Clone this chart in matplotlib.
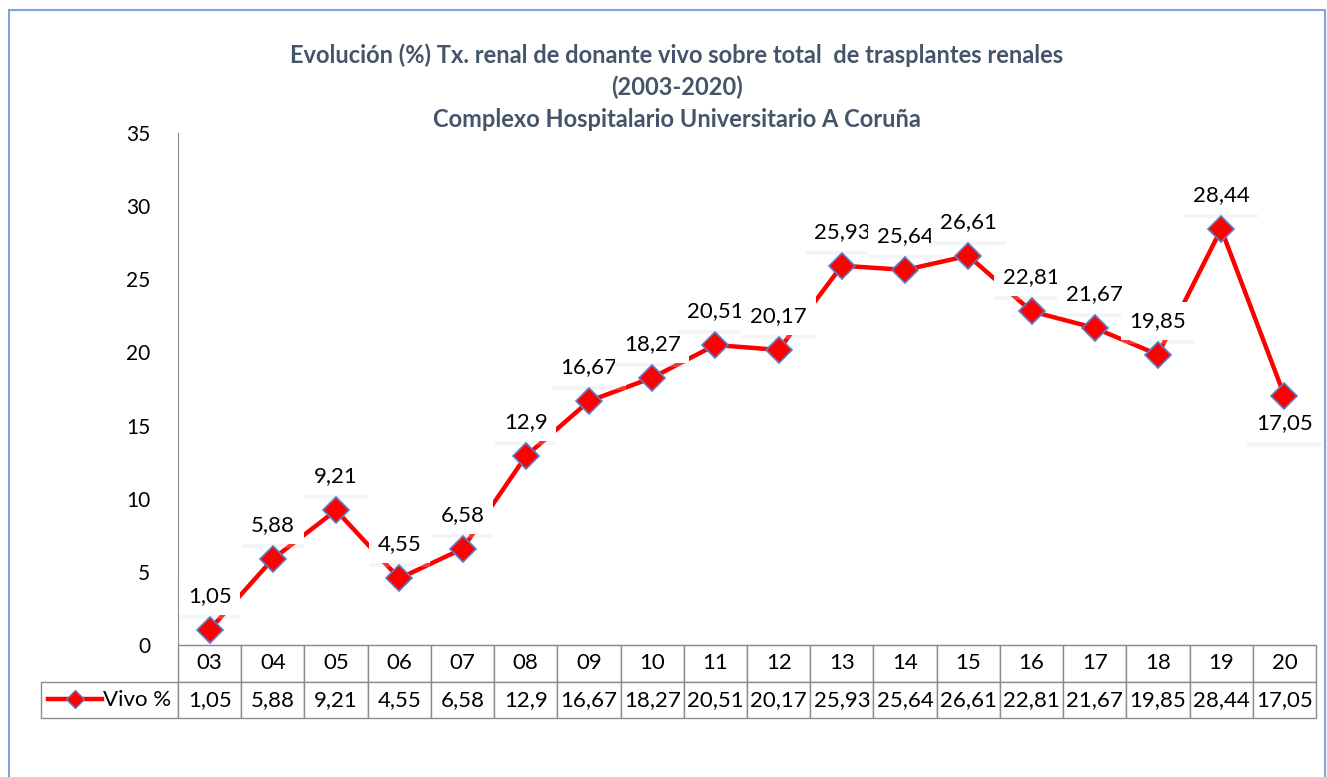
import matplotlib
matplotlib.use("Agg")
import matplotlib.pyplot as plt
import matplotlib.patheffects as pe
from matplotlib.lines import Line2D
from matplotlib.patches import Rectangle

plt.rcParams['font.family'] = ['Lato', 'DejaVu Sans']

# data
years = ['03', '04', '05', '06', '07', '08', '09', '10', '11',
         '12', '13', '14', '15', '16', '17', '18', '19', '20']
vivo = [1.05, 5.88, 9.21, 4.55, 6.58, 12.9, 16.67, 18.27, 20.51,
        20.17, 25.93, 25.64, 26.61, 22.81, 21.67, 19.85, 28.44, 17.05]
series_name = 'Vivo %'
title = ('Evolución (%) Tx. renal de donante vivo sobre total  de trasplantes renales\n'
         '(2003-2020)\nComplexo Hospitalario Universitario A Coruña')

def fmt(v):
    return str(v).replace('.', ',')

W, H = 1327, 777
fig = plt.figure(figsize=(W / 100, H / 100), dpi=100)

# outer border
fig.patches.append(Rectangle((9 / W, -0.05), (1325 - 9) / W, 1 - 10 / H + 0.05,
                             transform=fig.transFigure, fill=False,
                             edgecolor='#7DA3D8', lw=1.5))

L, R, T, B = 178, 1316, 133, 645
ax = fig.add_axes([L / W, 1 - B / H, (R - L) / W, (B - T) / H])

x = list(range(len(years)))
ax.plot(x, vivo, color='#FF0000', lw=3.2, zorder=3, solid_capstyle='round')
ax.plot(x, vivo, ls='none', marker='D', ms=13, markerfacecolor='#FF0000',
        markeredgecolor='#5B7DC8', markeredgewidth=1.2, zorder=6)

ax.set_xlim(-0.5, len(years) - 0.5)
ax.set_ylim(0, 35)
ax.set_yticks(range(0, 36, 5))
ax.set_xticks([])
ax.tick_params(axis='y', length=0, labelsize=15, pad=20)
for s in ['top', 'right']:
    ax.spines[s].set_visible(False)
ax.spines['left'].set_color('#8C8C8C')
ax.spines['bottom'].set_color('#8C8C8C')

# data labels
for i, v in enumerate(vivo):
    dy = -28 if i == len(vivo) - 1 else 34
    t = ax.annotate(fmt(v), (i, v), xytext=(0, dy), textcoords='offset pixels',
                    ha='center', va='center', fontsize=16, zorder=5,
                    bbox=dict(boxstyle='square,pad=0.4', fc='white', ec='none'))
    t.get_bbox_patch().set_path_effects(
        [pe.SimplePatchShadow(offset=(0, -3), shadow_rgbFace='#D8D8D8', alpha=0.25),
         pe.Normal()])

# data table under the axis
n = len(years)
cell_text = [[''] + years, [series_name] + [fmt(v) for v in vivo]]
tl = 41
tab = ax.table(cellText=cell_text,
               bbox=[(tl - L) / (R - L), -(718 - B) / (B - T),
                     (R - tl) / (R - L), (718 - B) / (B - T)],
               cellLoc='center', edges='closed')
tab.auto_set_font_size(False)
tab.set_fontsize(16)
first_w = (L - tl) / (R - tl)
other_w = (1 - first_w) / n
for (r, c), cell in tab.get_celld().items():
    cell.set_edgecolor('#8C8C8C')
    cell.set_linewidth(1.0)
    cell.set_width(first_w if c == 0 else other_w)
    if r == 0 and c == 0:
        cell.visible_edges = ''
    if r == 1 and c == 0:
        cell._loc = 'right'
        cell.PAD = 0.05
        cell.get_text().set_ha('right')

# legend key in the table
ly = 1 - 699 / H
fig.add_artist(Line2D([48 / W, 102 / W], [ly, ly], color='#FF0000', lw=3.2,
                      transform=fig.transFigure))
fig.add_artist(Line2D([75 / W], [ly], ls='none', marker='D', ms=9,
                      markerfacecolor='#FF0000', markeredgecolor='#5B7DC8',
                      transform=fig.transFigure))

fig.text(677 / W, 1 - 87 / H, title, ha='center', va='center', fontsize=17,
         fontweight='bold', color='#44546A', linespacing=1.45)

fig.savefig('out.png', dpi=100)
